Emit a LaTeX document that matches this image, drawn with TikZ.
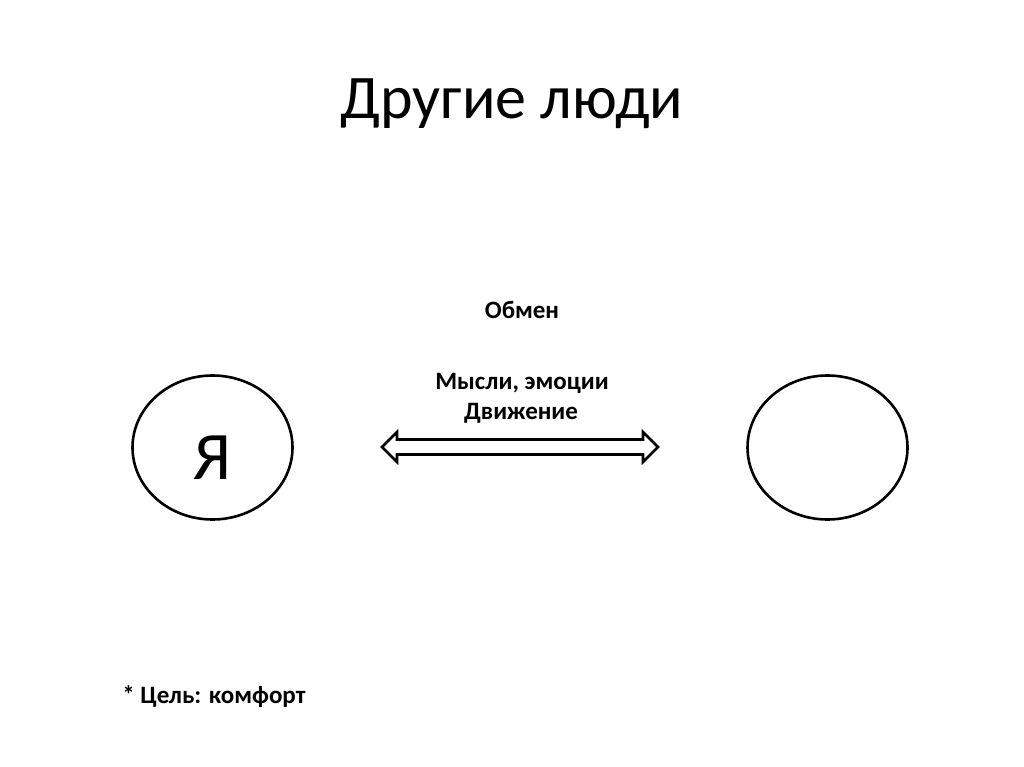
\documentclass[tikz,border=0pt]{standalone}
\usepackage{fontspec}
\usetikzlibrary{shapes.geometric}
\setmainfont{Carlito}
\begin{document}
\begin{tikzpicture}[x=1pt,y=-1pt,
  circ/.style={draw=black,line width=2.6pt,ellipse,minimum width=160pt,minimum height=144pt,inner sep=0pt,font=\fontsize{68}{70}\selectfont},
  lbl/.style={font=\fontsize{25}{30}\selectfont\bfseries,inner sep=0pt,anchor=base},
  arr/.style={draw=black,line width=2.6pt,line join=miter,fill=white}]
\useasboundingbox[fill=white] (0,0) rectangle (1024,767);
\node[font=\fontsize{62}{70}\selectfont,inner sep=0pt,anchor=base] (title) at (512,119) {Другие люди};
\node[lbl] (obmen) at (522,318) {Обмен};
\node[lbl] (mysli) at (522,389) {Мысли, эмоции};
\node[lbl] (dvizh) at (521,419) {Движение};
\node[lbl] (goal) at (214,703) {* Цель: комфорт};
\node[circ] (me) at (212.5,447.5) {};
\node[font=\fontsize{68}{70}\selectfont,inner sep=0pt,anchor=base] (ya) at (212.5,479) {Я};
\node[circ] (other) at (827.5,447.5) {};
\draw[arr] (382,447) -- (397,432) -- (397,439.5) -- (643,439.5) -- (643,432) -- (658,447) -- (643,462) -- (643,454.5) -- (397,454.5) -- (397,462) -- cycle;
\end{tikzpicture}
\end{document}
